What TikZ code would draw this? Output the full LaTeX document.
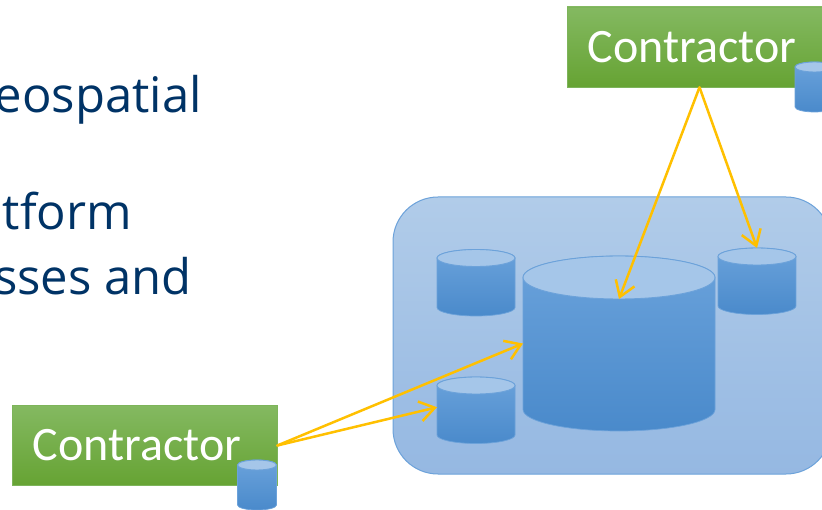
\documentclass[tikz,border=0pt]{standalone}
\usepackage{fontspec}
\setmainfont{Open Sans}
\newfontfamily\boxfont{Carlito}
\usetikzlibrary{arrows.meta}
\definecolor{bodytext}{HTML}{003366}
\definecolor{linkcol}{HTML}{FFC000}
\definecolor{edgeblue}{HTML}{6CA2DA}
\definecolor{cboxtop}{HTML}{84B961}
\definecolor{cboxmid}{HTML}{70AE43}
\definecolor{cboxbot}{HTML}{66A333}
\definecolor{cboxedge}{HTML}{7DB45A}
\definecolor{cyltop}{HTML}{6AA2DB}
\definecolor{cylmid}{HTML}{5899D8}
\definecolor{cylbot}{HTML}{4A8ACB}
\definecolor{lidblue}{HTML}{A5C6E9}
\definecolor{paneltop}{HTML}{B1CCE9}
\definecolor{panelbot}{HTML}{95B8E2}
\tikzset{
  bodyline/.style={anchor=base east,text=bodytext,inner sep=0pt,font=\fontsize{49}{54}\selectfont},
  greenbox/.style={top color=cboxtop,middle color=cboxmid,bottom color=cboxbot,draw=cboxedge,line width=.6pt,
    minimum width=265pt,minimum height=80pt,inner sep=0pt,text=white,font=\boxfont\fontsize{48}{52}\selectfont},
  link/.style={draw=linkcol,line width=2.5pt,line join=round,line cap=round,
    -{Straight Barb[length=15pt,width=20pt,line width=2.5pt]}},
  cylbody/.style={top color=cyltop,middle color=cylmid,bottom color=cylbot,draw=edgeblue,line width=.7pt},
  cyllid/.style={fill=lidblue,draw=edgeblue,line width=.9pt},
  panel/.style={top color=paneltop,bottom color=panelbot,draw=edgeblue,line width=1pt,rounded corners=45pt},
}
% name, centre x, lid centre y, x radius, y radius, distance lid to bottom centre
\newcommand\dbcyl[6]{%
  \path[cylbody] ({#2-#4},#3) -- ({#2-#4},{#3+#6})
     arc[start angle=180,end angle=0,x radius=#4,y radius=#5]
     -- ({#2+#4},#3)
     arc[start angle=360,end angle=180,x radius=#4,y radius=#5] -- cycle;
  \path[cyllid] (#2,#3) ellipse[x radius=#4,y radius=#5];
  \node[inner sep=0pt,outer sep=0pt,minimum width={2*#4*1pt},minimum height={(2*#5+#6)*1pt}]
     (#1) at (#2,{#3+#6/2}) {};
  \coordinate (#1-lid) at (#2,{#3+#5});
}
\begin{document}
\begin{tikzpicture}[x=1pt,y=-1pt]
\useasboundingbox (0,0) rectangle (822,510);
\clip (0,0) rectangle (822,510);
\fill[white] (0,0) rectangle (822,510);
\node[bodyline] (l1) at (202,113) {eospatial};
\node[bodyline] (l2) at (132,230) {tform};
\node[bodyline] (l3) at (192,295) {sses and};
\path[panel] (393,197) rectangle (831,474);
\dbcyl{tl}{476}{258}{39}{8.5}{49.5}
\dbcyl{bl}{476}{385.5}{39}{8.5}{49.5}
\dbcyl{tr}{757}{256.5}{39}{8.5}{49.5}
\dbcyl{big}{619}{277.5}{96}{21.5}{132}
\node[greenbox] (ctop) at (699.5,47) {Contractor\kern15pt};
\node[greenbox] (cbot) at (144.5,445.5) {Contractor\kern15pt};
\dbcyl{dtop}{814.5}{67}{19.5}{5}{40}
\dbcyl{dbot}{257}{465}{19.5}{5}{40}
\draw[link] (ctop.south) -- (big-lid);
\draw[link] (ctop.south) -- (tr.north);
\draw[link] (cbot.east) -- (big.west);
\draw[link] (cbot.east) -- ([yshift=3pt]bl.west);
\end{tikzpicture}
\end{document}
